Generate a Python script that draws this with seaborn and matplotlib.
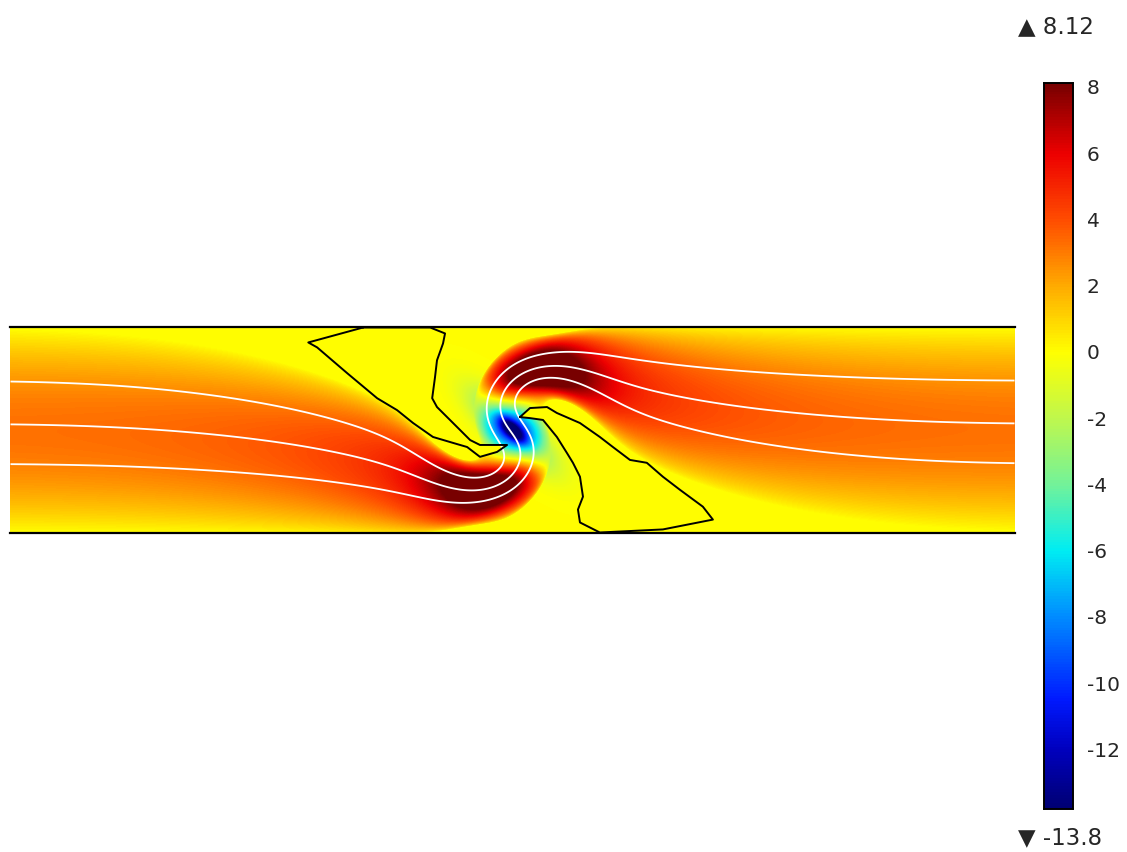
import numpy as np
import matplotlib
matplotlib.use("Agg")
import matplotlib.pyplot as plt
from matplotlib.colors import LinearSegmentedColormap
from matplotlib.path import Path
import seaborn as sns

# ---- chart values ----
x_range = [-2.5, 2.5]          # channel length (model units)
y_range = [-0.5, 0.5]          # channel height
u_peak = [3.2]                 # centreline velocity of undisturbed flow
profile_flattening = [0.45]    # how much flatter the profile gets where squeezed
squeeze_depth = [0.62]         # narrowing of the flowing band near the stirrer
squeeze_width = [0.78, 2.0]    # half-widths of the narrowing (core, cut-off)
shift_width = [0.22]           # width of the band's crossing at the centre
swirl_angle = [1.25]           # rotation at the core (rad)
swirl_width = [0.3]
core_amp = [-7.0, -6.0]        # stirrer core minimum (sharp part, halo)
core_len = [0.07, 0.24]
core_wid = [0.03, 0.085]
core_tilt = [-42.0]            # degrees
stream_levels = [-0.165, 0.03, 0.24]   # far-field heights of the white streamlines
# outlines of the entrained wall fluid (x, y)
upper_finger_x = [-0.744, -1.017, -0.973, -0.823, -0.674, -0.575, -0.495, -0.396, -0.296,
                  -0.226, -0.162, -0.077, -0.027, -0.162, -0.211, -0.296, -0.376, -0.400,
                  -0.386, -0.376, -0.346, -0.336, -0.410]
upper_finger_y = [0.50, 0.427, 0.403, 0.277, 0.155, 0.097, 0.034, -0.034, -0.063,
                  -0.083, -0.131, -0.107, -0.073, -0.073, -0.049, 0.034, 0.112, 0.155,
                  0.257, 0.340, 0.422, 0.471, 0.50]
lower_finger_x = [0.037, 0.087, 0.172, 0.221, 0.336, 0.435, 0.500, 0.585, 0.669, 0.749,
                  0.833, 0.948, 0.998, 0.749, 0.435, 0.336, 0.326, 0.351, 0.336, 0.301,
                  0.271, 0.221, 0.152, 0.087]
lower_finger_y = [0.063, 0.107, 0.112, 0.083, 0.034, -0.034, -0.083, -0.146, -0.160, -0.228,
                  -0.291, -0.374, -0.437, -0.485, -0.50, -0.451, -0.388, -0.325, -0.228,
                  -0.160, -0.112, -0.034, 0.049, 0.058]
color_limits = [-13.8, 8.12]
cbar_ticks = [8, 6, 4, 2, 0, -2, -4, -6, -8, -10, -12]
top_label = ["\u25b2 8.12"]
bottom_label = ["\u25bc -13.8"]
# colour scale: value -> rgb
cmap_values = [-13.8, -12, -10.5, -8, -6, -4, -2, 0, 2, 4, 6, 8.12]
cmap_colors = [(0, 0, 0.45), (0, 0, 0.75), (0, 0.1, 1), (0, 0.55, 1), (0, 0.93, 0.95),
               (0.45, 0.95, 0.6), (0.75, 0.97, 0.3), (1, 1, 0), (1, 0.67, 0),
               (1, 0.3, 0), (0.93, 0, 0), (0.47, 0, 0)]

# ---- field model ----
nx, ny = 1005, 206
xs = np.linspace(x_range[0], x_range[1], nx)
ys = np.linspace(y_range[1], y_range[0], ny)   # top row first
X, Y = np.meshgrid(xs, ys)
R = np.hypot(X, Y)
theta = swirl_angle[0] * np.exp(-(R / swirl_width[0]) ** 2)
Xp = X * np.cos(theta) + Y * np.sin(theta)      # undo the core swirl
Yp = -X * np.sin(theta) + Y * np.cos(theta)


def squeeze_env(x):
    return np.exp(-(x / squeeze_width[1]) ** 4) / (1 + (x / squeeze_width[0]) ** 2)


def band_perp(x):
    return 1 - squeeze_depth[0] * squeeze_env(x)


def band_centre(x):
    return np.tanh(x / shift_width[0]) * (1 - band_perp(x)) / 2


h = 1e-4
slope = (band_centre(Xp + h) - band_centre(Xp - h)) / (2 * h)
band_w = band_perp(Xp) * np.sqrt(1 + slope ** 2)
Qy = (Yp - band_centre(Xp)) / band_w
H = y_range[1]
dy = ys[0] - ys[1]
dq_dy = -np.gradient(Qy, dy, axis=0)            # rows go downward
expo = 1 - profile_flattening[0] * squeeze_env(Xp)
prof = np.clip(1 - (Qy / H) ** 2, 0, None) ** expo
U = u_peak[0] * prof * dq_dy

ca, sa = np.cos(np.radians(core_tilt[0])), np.sin(np.radians(core_tilt[0]))
A_ = X * ca + Y * sa
C_ = -X * sa + Y * ca
for amp, ln, wd in zip(core_amp, core_len, core_wid):
    U = U + amp * np.exp(-(A_ / ln) ** 2 - (C_ / wd) ** 2)

pts = np.column_stack([X.ravel(), Y.ravel()])
for fx, fy in [(upper_finger_x, upper_finger_y), (lower_finger_x, lower_finger_y)]:
    inside = Path(np.column_stack([fx, fy])).contains_points(pts).reshape(U.shape)
    U[inside] = 0.0

norm_pos = [(v - color_limits[0]) / (color_limits[1] - color_limits[0]) for v in cmap_values]
cmap = LinearSegmentedColormap.from_list("rainbow_c", list(zip(norm_pos, cmap_colors)))

# ---- plotting ----
sns.set_theme(style="white")
plt.rcParams["axes.unicode_minus"] = False
plt.rcParams["font.family"] = ["DejaVu Sans"]

fig = plt.figure(figsize=(11.27, 8.52), dpi=100)
ax = fig.add_axes([10 / 1127, 1 - 533 / 852, 1005 / 1127, 206 / 852])
cax = fig.add_axes([1044 / 1127, 1 - 809 / 852, 29 / 1127, 726 / 852])

sns.heatmap(U, ax=ax, cbar_ax=cax, cmap=cmap, vmin=color_limits[0], vmax=color_limits[1],
            xticklabels=False, yticklabels=False, rasterized=True)


# data -> heatmap cell coordinates
def to_cols(x):
    return (np.asarray(x) - x_range[0]) / (xs[1] - xs[0]) + 0.5


def to_rows(y):
    return (y_range[1] - np.asarray(y)) / dy + 0.5


J = np.arange(nx) + 0.5
I = np.arange(ny) + 0.5
ax.contour(J, I, Qy, levels=stream_levels, colors="white",
           linewidths=1.3, linestyles="solid")
for fx, fy in [(upper_finger_x, upper_finger_y), (lower_finger_x, lower_finger_y)]:
    ax.plot(to_cols(fx + [fx[0]]), to_rows(fy + [fy[0]]), color="black", lw=1.4)

for side in ["left", "right"]:
    ax.spines[side].set_visible(False)
for side in ["top", "bottom"]:
    ax.spines[side].set_visible(True)
    ax.spines[side].set_color("black")
    ax.spines[side].set_linewidth(1.6)
ax.set_xlim(0, nx)
ax.set_ylim(ny, 0)

cax.set_yticks(cbar_ticks)
cax.set_yticklabels([str(t) for t in cbar_ticks])
cax.tick_params(axis="y", which="both", direction="in", left=True, right=True,
                labelleft=False, labelright=True, length=4, width=1, color="black",
                labelsize=14.5, pad=10)
for sp in cax.spines.values():
    sp.set_visible(True)
    sp.set_color("black")
    sp.set_linewidth(1.2)

fig.text(1018 / 1127, 1 - 27 / 852, top_label[0], fontsize=16.5, va="center", ha="left")
fig.text(1018 / 1127, 1 - 838 / 852, bottom_label[0], fontsize=16.5, va="center", ha="left")

fig.savefig("out.png", dpi=100)
